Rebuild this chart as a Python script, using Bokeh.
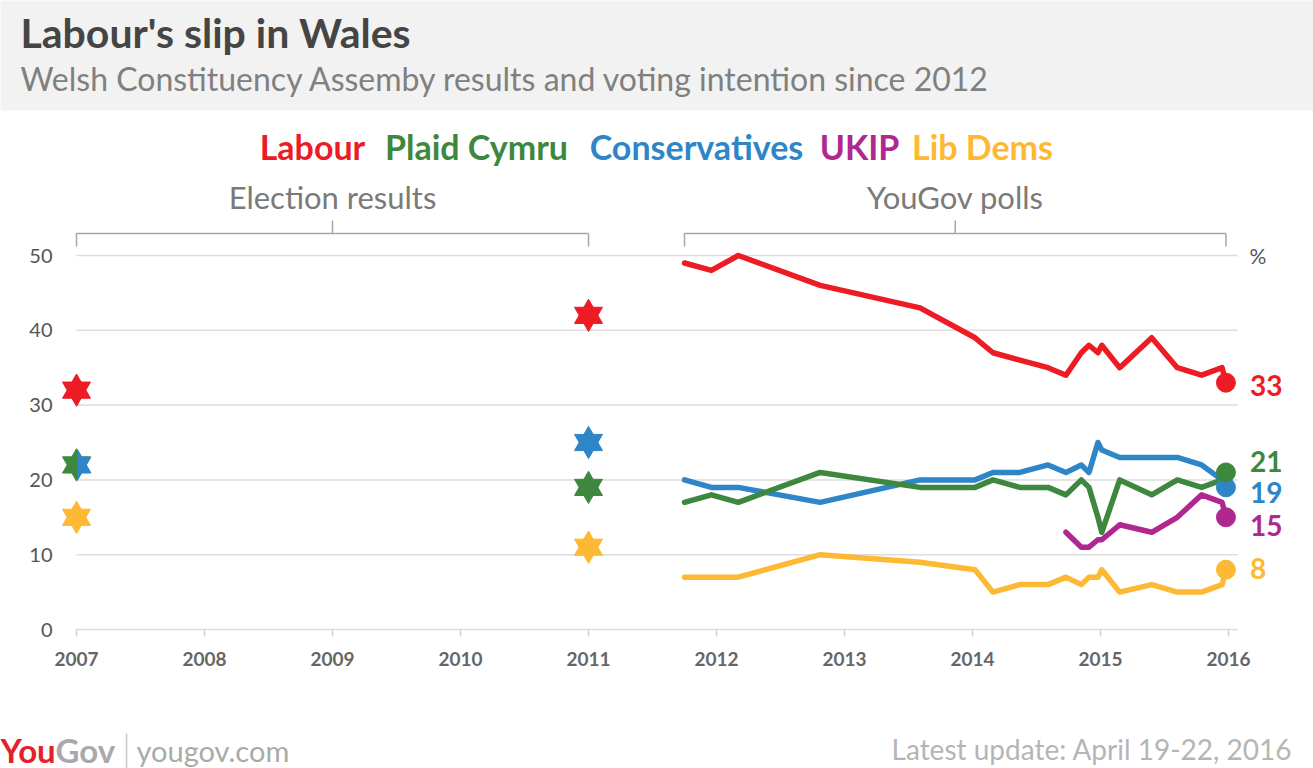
import math
from bokeh.plotting import figure
from bokeh.models import (Range1d, FixedTicker, Label, LabelSet, ColumnDataSource,
                          BoxAnnotation)
from bokeh.core.properties import value
from bokeh.embed import file_html
from bokeh.resources import INLINE

# ---------------- data ----------------
parties = ["Labour", "Plaid Cymru", "Conservatives", "UKIP", "Lib Dems"]
party_colors = ["#ed1c24", "#3d873e", "#2e86c8", "#b0288f", "#fdb933"]

election_years = [2007, 2011]
election_labour = [32, 42]
election_plaid = [22, 19]
election_conservatives = [22, 25]
election_libdems = [15, 11]

poll_dates = [2011.75, 2011.96, 2012.17, 2012.81, 2013.59, 2014.02, 2014.16, 2014.37,
              2014.59, 2014.73, 2014.85, 2014.91, 2014.98, 2015.01, 2015.15, 2015.40,
              2015.60, 2015.79, 2015.95, 2015.98]
poll_labour = [49, 48, 50, 46, 43, 39, 37, 36, 35, 34, 37, 38, 37, 38, 35, 39, 35, 34, 35, 33]
poll_plaid = [17, 18, 17, 21, 19, 19, 20, 19, 19, 18, 20, 19, 15, 13, 20, 18, 20, 19, 20, 21]
poll_conservatives = [20, 19, 19, 17, 20, 20, 21, 21, 22, 21, 22, 21, 25, 24, 23, 23, 23, 22, 20, 19]
poll_ukip = [float("nan")] * 9 + [13, 11, 11, 12, 12, 14, 13, 15, 18, 17, 15]
poll_libdems = [7, 7, 7, 10, 9, 8, 5, 6, 6, 7, 6, 7, 7, 8, 5, 6, 5, 5, 6, 8]

year_ticks = list(range(2007, 2017))
pct_ticks = [0, 10, 20, 30, 40, 50]

# ---------------- geometry (whole canvas is the frame) ----------------
W, H = 1313, 768
PX_PER_YEAR = 128.0
PX_PER_PCT = 7.48
ORIGIN_X_PAGE = 76    # where 2007 sits
ORIGIN_Y_PAGE = 629   # where 0 % sits
X0 = year_ticks[0] - ORIGIN_X_PAGE / PX_PER_YEAR
X1 = X0 + W / PX_PER_YEAR
Y0 = -(H - ORIGIN_Y_PAGE) / PX_PER_PCT
Y1 = ORIGIN_Y_PAGE / PX_PER_PCT
GRID_END = year_ticks[-1] + 9 / PX_PER_YEAR


def page_x(px):
    return X0 + px / PX_PER_YEAR


def page_y(py):
    return (ORIGIN_Y_PAGE - py) / PX_PER_PCT


p = figure(width=W, height=H, min_border=0,
           x_range=Range1d(X0, X1), y_range=Range1d(Y0, Y1),
           output_backend="svg", toolbar_location=None,
           background_fill_color="white", border_fill_color="white")
p.outline_line_color = None

# header band
p.add_layout(BoxAnnotation(left=X0 - 1, right=X1 + 1, top=Y1 + 1, bottom=page_y(110),
                           fill_color="#f2f2f2", fill_alpha=1.0, line_color=None))

# axes drawn at fixed locations inside the canvas
p.xaxis.fixed_location = pct_ticks[0]
p.xaxis.ticker = FixedTicker(ticks=year_ticks)
p.xaxis.bounds = (year_ticks[0], GRID_END)
p.xaxis.major_label_text_font = "Lato"
p.xaxis.major_label_text_font_style = "bold"
p.xaxis.major_label_text_font_size = "19px"
p.xaxis.major_label_text_color = "#666666"
p.xaxis.axis_line_color = "#dcdcdc"
p.xaxis.axis_line_width = 1.5
p.xaxis.major_tick_line_color = "#d4d4d4"
p.xaxis.major_tick_line_width = 1.5
p.xaxis.major_tick_out = 7
p.xaxis.major_tick_in = 0
p.xaxis.minor_tick_line_color = None
p.xaxis.major_label_standoff = 15

p.yaxis.fixed_location = year_ticks[0]
p.yaxis.ticker = FixedTicker(ticks=pct_ticks)
p.yaxis.bounds = (pct_ticks[0], pct_ticks[-1])
p.yaxis.major_label_text_font = "Lato"
p.yaxis.major_label_text_font_size = "20px"
p.yaxis.major_label_text_color = "#555555"
p.yaxis.axis_line_color = None
p.yaxis.major_tick_line_color = None
p.yaxis.minor_tick_line_color = None
p.yaxis.major_tick_out = 0
p.yaxis.major_tick_in = 0
p.yaxis.major_label_standoff = 24

p.xgrid.grid_line_color = None
p.ygrid.grid_line_color = None
grid_ticks = pct_ticks[1:]
p.segment(x0=[year_ticks[0]] * len(grid_ticks), x1=[GRID_END] * len(grid_ticks),
          y0=grid_ticks, y1=grid_ticks, line_color="#dddddd", line_width=1.5)

# brackets
gray = "#a6a6a6"
br_y = page_y(233)
br_end = page_y(246)
br_top = page_y(220)
groups = [(election_years[0], election_years[-1], "Election results"),
          (poll_dates[0], poll_dates[-1], "YouGov polls")]
for a, b, txt in groups:
    mid = (a + b) / 2
    p.segment(x0=[a, a, b, mid], y0=[br_y, br_y, br_y, br_y],
              x1=[b, a, b, mid], y1=[br_y, br_end, br_end, br_top],
              line_color=gray, line_width=1.5)
    p.add_layout(Label(x=mid, y=page_y(196), text=txt, text_align="center",
                       text_baseline="middle", text_font="Lato",
                       text_font_size="31px", text_color="#7a7a7a"))

# legend
legend_centers = [312, 476, 696, 859, 982]
for name, c, cx in zip(parties, party_colors, legend_centers):
    p.add_layout(Label(x=page_x(cx), y=page_y(146), text=name, text_align="center",
                       text_baseline="middle", text_font="Lato", text_font_style="bold",
                       text_font_size="34px", text_color=c))

# poll lines
series = {
    "Labour": poll_labour,
    "Plaid Cymru": poll_plaid,
    "Conservatives": poll_conservatives,
    "UKIP": poll_ukip,
    "Lib Dems": poll_libdems,
}
draw_order = ["Lib Dems", "UKIP", "Conservatives", "Plaid Cymru", "Labour"]
for name in draw_order:
    c = party_colors[parties.index(name)]
    p.line(poll_dates, series[name], line_color=c, line_width=5.5,
           line_join="round", line_cap="round")

latest = [series[n][-1] for n in parties]
for name in draw_order:
    i = parties.index(name)
    p.scatter([poll_dates[-1]], [latest[i]], size=19, color=party_colors[i])

end_src = ColumnDataSource(dict(
    x=[poll_dates[-1]] * len(parties), y=latest,
    color=party_colors, text=[str(v) for v in latest],
    nudge=[-3, 11, -5, -8, 1]))
p.add_layout(LabelSet(x="x", y="y", text="text", source=end_src, x_offset=24,
                      y_offset="nudge", text_color="color", text_font=value("Lato"),
                      text_font_style="bold", text_font_size="28px",
                      text_baseline="middle", text_align="left"))

p.add_layout(Label(x=year_ticks[-1], y=pct_ticks[-1], x_offset=21, text="%",
                   text_baseline="middle", text_font="Lato", text_font_size="21px",
                   text_color="#555555"))

# election stars (hexagrams)
STAR = 28
election = {
    "Labour": election_labour,
    "Plaid Cymru": election_plaid,
    "Conservatives": election_conservatives,
    "Lib Dems": election_libdems,
}


def half_star(xc, yc, r_px=STAR / 2, gap_px=1.0):
    R = 2 * r_px / math.sqrt(3)
    ri = R / math.sqrt(3)
    angs = [90, 60, 30, 0, -30, -60, -90]
    rads = [R, ri, R, ri, R, ri, R]
    xs = [xc + (gap_px + rr * math.cos(math.radians(a))) / PX_PER_YEAR
          for a, rr in zip(angs, rads)]
    ys = [yc + rr * math.sin(math.radians(a)) / PX_PER_PCT for a, rr in zip(angs, rads)]
    return xs, ys


for name in ["Lib Dems", "Plaid Cymru", "Conservatives", "Labour"]:
    c = party_colors[parties.index(name)]
    for j, (yr, v) in enumerate(zip(election_years, election[name])):
        tie = (name == "Conservatives" and election_plaid[j] == v)
        if tie:
            xs, ys = half_star(yr, v)
            p.patch(xs, ys, fill_color=c, line_color=None)
        else:
            p.scatter([yr], [v], marker="triangle", size=STAR, color=c)
            p.scatter([yr], [v], marker="inverted_triangle", size=STAR, color=c)

# ---------------- header texts ----------------
p.add_layout(Label(x=page_x(20), y=page_y(32), text="Labour's slip in Wales",
                   text_baseline="middle", text_font="Lato", text_font_style="bold",
                   text_font_size="41px", text_color="#454545"))
p.add_layout(Label(x=page_x(20), y=page_y(78),
                   text="Welsh Constituency Assemby results and voting intention since 2012",
                   text_baseline="middle", text_font="Lato", text_font_size="32px",
                   text_color="#808080"))

# ---------------- footer ----------------
p.add_layout(BoxAnnotation(left=page_x(125.3), right=page_x(126.8), top=page_y(733),
                           bottom=page_y(768), fill_color="#c8c8c8", fill_alpha=1.0,
                           line_color=None))
p.add_layout(Label(x=page_x(0), y=page_y(749), text="You", text_baseline="middle",
                   text_font="Lato", text_font_style="bold", text_font_size="33px",
                   text_color="#e4212b"))
p.add_layout(Label(x=page_x(55), y=page_y(749), text="Gov", text_baseline="middle",
                   text_font="Lato", text_font_style="bold", text_font_size="33px",
                   text_color="#a8a9ad"))
p.add_layout(Label(x=page_x(136), y=page_y(750), text="yougov.com",
                   text_baseline="middle", text_font="Lato", text_font_size="29px",
                   text_color="#aaaaaa"))
p.add_layout(Label(x=page_x(1292), y=page_y(748), text="Latest update: April 19-22, 2016",
                   text_align="right", text_baseline="middle", text_font="Lato",
                   text_font_size="28px", text_color="#b5b5b5"))

open("out.html", "w").write(file_html(p, INLINE))
